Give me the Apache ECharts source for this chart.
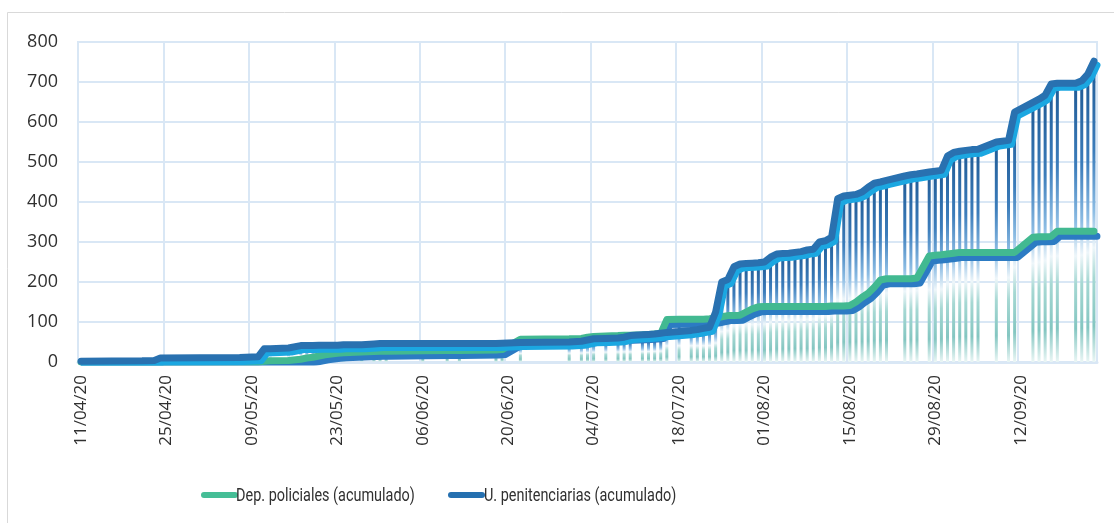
<!DOCTYPE html>
<html><head><meta charset="utf-8">
<script src="https://cdn.jsdelivr.net/npm/echarts@6/dist/echarts.min.js"></script>
<style>html,body{margin:0;padding:0;background:#fff}#c{width:1114px;height:523px}</style>
</head><body><div id="c"></div>
<script>
// Axis range (daily categories) and tick labels
const firstDay = '11/04/20';
const lastDay = '24/09/20';
const tickLabels = ['11/04/20','25/04/20','09/05/20','23/05/20','06/06/20','20/06/20','04/07/20','18/07/20','01/08/20','15/08/20','29/08/20','12/09/20'];
const seriesNames = ['Dep. policiales (acumulado)','U. penitenciarias (acumulado)'];

// Dates with reported data
const pointDates = [
 '11/04/20','21/04/20','23/04/20','24/04/20','07/05/20','10/05/20','11/05/20','12/05/20','15/05/20',
 '17/05/20','18/05/20','19/05/20','20/05/20','21/05/20','22/05/20','23/05/20','24/05/20','27/05/20',
 '29/05/20','30/05/20','31/05/20','06/06/20','10/06/20','12/06/20','18/06/20','19/06/20','22/06/20',
 '30/06/20','02/07/20','03/07/20','04/07/20','06/07/20','08/07/20','09/07/20','10/07/20','12/07/20',
 '13/07/20','14/07/20','15/07/20','16/07/20','18/07/20','20/07/20','21/07/20','22/07/20','23/07/20',
 '24/07/20','25/07/20','26/07/20','27/07/20','28/07/20','29/07/20','30/07/20','31/07/20','01/08/20',
 '02/08/20','03/08/20','04/08/20','05/08/20','06/08/20','07/08/20','08/08/20','09/08/20','10/08/20',
 '11/08/20','12/08/20','13/08/20','14/08/20','15/08/20','16/08/20','17/08/20','18/08/20','19/08/20',
 '20/08/20','21/08/20','24/08/20','25/08/20','26/08/20','28/08/20','29/08/20','30/08/20','31/08/20',
 '01/09/20','02/09/20','03/09/20','04/09/20','05/09/20','08/09/20','10/09/20','11/09/20','14/09/20',
 '15/09/20','16/09/20','17/09/20','18/09/20','21/09/20','22/09/20','23/09/20','24/09/20'
];
const penitenciarias = [
 2,3,4,10,11,13,33,33,35,
 41,41,41,42,42,42,42,43,43,
 45,46,46,46,46,46,46,47,49,
 50,52,55,58,59,60,62,66,68,
 69,70,72,74,76,79,81,84,87,
 125,200,206,238,245,246,247,248,250,
 262,270,271,272,274,276,280,282,300,
 303,312,408,415,417,419,425,437,447,
 450,454,465,468,470,475,477,479,515,
 524,527,529,531,532,550,554,625,649,
 657,667,695,697,697,703,720,752
];
const policiales = [
 0,0,0,0,0,0,2,3,4,
 7,10,12,15,18,20,22,23,25,
 26,27,27,28,29,29,30,31,57,
 58,59,62,64,65,66,67,67,68,
 69,70,71,106,107,107,107,107,108,
 110,113,116,116,117,125,133,138,139,
 139,139,139,139,139,139,139,139,139,
 139,140,140,140,141,150,162,172,187,
 205,208,208,208,210,265,267,268,270,
 272,274,274,274,274,274,274,274,312,
 313,313,314,327,327,327,327,327
];

function toUTC(s){const p=s.split('/');return Date.UTC(2000+ +p[2], +p[1]-1, +p[0]);}
function fmt(t){const d=new Date(t);const dd=String(d.getUTCDate()).padStart(2,'0');const mm=String(d.getUTCMonth()+1).padStart(2,'0');return dd+'/'+mm+'/'+String(d.getUTCFullYear()).slice(2);}
const DAY=86400000;
const categories=[];
for(let t=toUTC(firstDay);t<=toUTC(lastDay);t+=DAY) categories.push(fmt(t));
const n=categories.length;
const blueFull=new Array(n).fill(null), greenFull=new Array(n).fill(null), dropFull=new Array(n).fill(null);
pointDates.forEach((s,i)=>{
  const k=categories.indexOf(s);
  blueFull[k]=penitenciarias[i];
  greenFull[k]=policiales[i];
  dropFull[k]=Math.max(penitenciarias[i],policiales[i]);
});
const isTick=(idx,val)=>tickLabels.indexOf(val)>=0;

const chart=echarts.init(document.getElementById('c'),null,{renderer:'canvas'});
const gridColor='#D9E7F5';
const dropGrad=new echarts.graphic.LinearGradient(0,0,0,1,[
  {offset:0,color:'#1F5A95'},
  {offset:0.3,color:'#3C7DBB'},
  {offset:0.5,color:'#8DBDE4'},
  {offset:0.62,color:'#EEF6FA'},
  {offset:0.72,color:'#A6D8D3'},
  {offset:0.88,color:'#84C6C1'},
  {offset:1,color:'#EAF6F5'}
]);
const legendIcon='path://M3,0 H34 A3,3 0 0 1 34,6 H3 A3,3 0 0 1 3,0 Z';
const legendText=(x,txt)=>({type:'text',x:x,y:496,scaleX:0.76,originX:0,originY:0,z:10,
  style:{text:txt,fontFamily:'Roboto',fontSize:19,fill:'#303030',verticalAlign:'middle',align:'left'}});
chart.setOption({
  animation:false,
  backgroundColor:'#ffffff',
  graphic:[
    {type:'rect',z:-10,shape:{x:7.5,y:12.5,width:1200,height:600},style:{fill:'none',stroke:'#D9D9D9',lineWidth:1}},
    legendText(236,seriesNames[0]),
    legendText(484,seriesNames[1])
  ],
  grid:{left:78,right:17,top:42,bottom:161,show:true,borderColor:gridColor,borderWidth:2,backgroundColor:'transparent'},
  legend:[
    {data:[seriesNames[0]],left:196,top:487,itemWidth:37,itemHeight:6,icon:legendIcon,formatter:()=>'',selectedMode:false},
    {data:[seriesNames[1]],left:443,top:487,itemWidth:37,itemHeight:6,icon:legendIcon,formatter:()=>'',selectedMode:false}
  ],
  xAxis:{type:'category',data:categories,boundaryGap:true,
    axisLine:{show:true,lineStyle:{color:gridColor,width:3}},
    axisTick:{show:false},
    axisLabel:{interval:isTick,rotate:90,margin:13,fontFamily:'Open Sans',fontSize:17,color:'#303030'},
    splitLine:{show:true,interval:isTick,lineStyle:{color:gridColor,width:2}}
  },
  yAxis:{type:'value',min:0,max:800,interval:100,
    axisLine:{show:true,lineStyle:{color:gridColor,width:2}},
    axisTick:{show:false},
    axisLabel:{margin:20,fontFamily:'Open Sans',fontSize:18,color:'#303030'},
    splitLine:{show:true,lineStyle:{color:gridColor,width:2}}
  },
  series:[
    {name:'drop',type:'bar',data:dropFull,barWidth:3,z:1,silent:true,
     itemStyle:{color:dropGrad}},
    {name:seriesNames[0],type:'line',data:greenFull,connectNulls:true,showSymbol:false,symbol:'none',z:3,
     itemStyle:{color:'#45BE96'},
     lineStyle:{color:'#42B991',width:7,cap:'round',join:'round',shadowColor:'#2C7BC3',shadowBlur:0,shadowOffsetX:3,shadowOffsetY:5}},
    {name:seriesNames[1],type:'line',data:blueFull,connectNulls:true,showSymbol:false,symbol:'none',z:4,
     itemStyle:{color:'#2570B0'},
     lineStyle:{color:'#2971B0',width:7,cap:'round',join:'round',shadowColor:'#1BA7E1',shadowBlur:0,shadowOffsetX:3,shadowOffsetY:4}}
  ]
});
</script></body></html>
